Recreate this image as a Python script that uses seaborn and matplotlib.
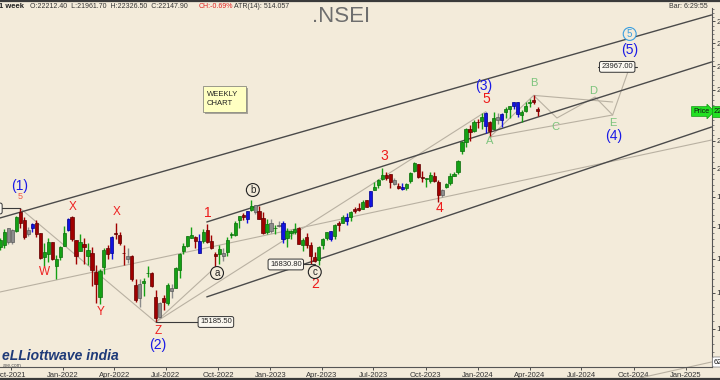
import pandas as pd
import matplotlib
matplotlib.use('Agg')
import matplotlib.pyplot as plt
import matplotlib.dates as mdates
import matplotlib.ticker as mticker
from matplotlib.lines import Line2D
from matplotlib.patches import Rectangle
import seaborn as sns

# ---------------- data ----------------
first_week = '2021-09-06'

opens = [
    17250, 17380, 17440, 17962, 17531, 17867, 18500, 18229, 17783, 17967,
    18141, 17796, 17051, 17135, 17521, 16773, 17046, 17388, 17913, 18309,
    17575, 17244, 17456, 17076, 17192, 16594, 15867, 16757, 17329, 17181,
    17810, 17740, 17184, 17006, 17097, 16227, 15845, 16290, 16578, 16570,
    15877, 15334, 15838, 15710, 16138, 16151, 16662, 17244, 17401, 17648,
    17682, 17188, 17546, 17890, 17540, 17156, 17147, 17094, 17200, 17736,
    17731, 18211, 18376, 18246, 18552, 18719, 18507, 18288, 17831, 18131,
    17953, 18074, 18119, 17649, 17818, 17847, 17965, 17428, 17680, 17421,
    17066, 16977, 17427, 17634, 17863, 17707, 18124, 18120, 18339, 18314,
    18599, 18612, 18595, 18873, 18682, 19246, 19400, 19612, 19748, 19784,
    19576, 19383, 19320, 19298, 19525, 19890, 20155, 19678, 19622, 19539,
    19730, 19522, 19053, 19345, 19486, 19731, 19844, 20602, 20965, 21434,
    21365, 21727, 21747, 22053, 21716, 21433, 21926, 21800, 22126, 22222,
    22356, 22517, 21989, 22163, 22456, 22579, 22212.4]

highs = [
    17436, 17644, 17947, 17976, 17949, 18351, 18604, 18310, 18012, 18124,
    18210, 17806, 17489, 17639, 17532, 17118, 17400, 18017, 18286, 18350,
    17599, 17781, 17640, 17490, 17352, 16815, 16694, 17344, 17442, 17703,
    18114, 17842, 17414, 17322, 17132, 16404, 16400, 16415, 16793, 16610,
    16084, 15749, 15927, 16275, 16248, 16752, 17172, 17490, 17719, 17992,
    17726, 17777, 17925, 18096, 17728, 17197, 17429, 17348, 17664, 17838,
    18176, 18362, 18442, 18529, 18888, 18728, 18696, 18473, 18266, 18251,
    18049, 18201, 18183, 17972, 17916, 18134, 18005, 17645, 17799, 17529,
    17207, 17381, 17638, 17843, 17863, 18089, 18180, 18389, 18458, 18508,
    18662, 18778, 18887, 18887, 19201, 19523, 19595, 19991, 19868, 19795,
    19645, 19465, 19458, 19457, 19867, 20222, 20156, 19878, 19660, 19843,
    19850, 19593, 19276, 19463, 19806, 19875, 20292, 21006, 21492, 21593,
    21801, 21834, 22082, 22124, 21750, 22127, 22053, 22069, 22297, 22353,
    22526, 22526, 22180, 22516, 22619, 22775, 22326.5]

lows = [
    17250, 17270, 17327, 17452, 17452, 17840, 17968, 17613, 17697, 17836,
    17688, 16985, 16782, 16891, 16966, 16410, 16968, 17384, 17880, 17564,
    16837, 17244, 16836, 16809, 16203, 15711, 15671, 16555, 17006, 17006,
    17623, 17443, 16825, 16888, 16340, 15736, 15601, 15903, 16444, 16172,
    15183, 15300, 15511, 15661, 15858, 16142, 16438, 17154, 17359, 17640,
    17345, 17166, 17485, 17500, 17292, 16747, 16855, 16950, 17098, 17637,
    17699, 17969, 18209, 18133, 18510, 18410, 18255, 17775, 17789, 17796,
    17774, 17990, 17493, 17353, 17625, 17762, 17455, 17255, 17324, 16851,
    16917, 16828, 17312, 17574, 17553, 17612, 17885, 18115, 18060, 18194,
    18464, 18516, 18575, 18647, 18647, 19241, 19301, 19563, 19563, 19296,
    19413, 19257, 19229, 19223, 19487, 19865, 19657, 19492, 19333, 19480,
    19518, 18837, 18973, 19309, 19414, 19700, 19802, 20507, 20770, 20977,
    21330, 21500, 21450, 21285, 21137, 21429, 21629, 21530, 21875, 21860,
    22224, 21905, 21710, 22101, 22303, 22427, 21961.7]

closes = [
    17369, 17585, 17853, 17532, 17895, 18338, 18114, 17671, 17916, 18102,
    17765, 17026, 17196, 17511, 16985, 17003, 17354, 17812, 18256, 17617,
    17102, 17516, 17374, 17276, 16658, 16245, 16630, 17287, 17153, 17670,
    17784, 17476, 17172, 17102, 16411, 15782, 16266, 16352, 16584, 16201,
    15293, 15699, 15752, 16220, 16049, 16719, 17158, 17397, 17698, 17758,
    17558, 17539, 17833, 17530, 17327, 17094, 17315, 17186, 17576, 17787,
    18117, 18350, 18308, 18513, 18696, 18497, 18269, 17807, 18105, 17859,
    17956, 18027, 17604, 17854, 17856, 17944, 17465, 17594, 17413, 17100,
    16945, 17360, 17600, 17828, 17624, 18065, 18069, 18315, 18203, 18499,
    18534, 18563, 18826, 18665, 19189, 19332, 19564, 19745, 19646, 19517,
    19428, 19310, 19266, 19435, 19820, 20192, 19674, 19638, 19653, 19751,
    19542, 19047, 19231, 19425, 19732, 19795, 20268, 20969, 21457, 21349,
    21731, 21711, 21895, 21572, 21353, 21854, 21783, 22041, 22213, 22339,
    22494, 22023, 22097, 22327, 22514, 22519, 22147.9]

# weeks the indicator paints blue / grey
blue_weeks = [9, 18, 29, 51, 63, 72, 84, 88, 94, 102, 123, 127, 130, 131]
gray_weeks = [3, 4, 8, 33, 36, 41, 44, 57, 65, 69, 71, 100, 112, 126]

# channel lines (dark)
dark_seg = [0, 0, 1, 1, 2, 2]
dark_dates = ['2021-09-12', '2025-02-15', '2022-09-11', '2025-02-15', '2022-09-11', '2025-02-15']
dark_prices = [18290, 26299, 18160, 24177, 15883, 21523]

# wave connection lines (light)
light_seg = [0, 0, 1, 1, 2, 2, 3, 3, 4, 4, 4, 4, 4, 4, 5, 5, 6, 6, 7, 7]
light_dates = ['2021-09-12', '2025-02-15',
               '2021-10-18', '2022-06-13',
               '2022-06-13', '2022-09-26',
               '2022-06-13', '2024-01-15',
               '2024-01-22', '2024-04-08', '2024-05-19', '2024-07-25', '2024-08-25', '2024-09-24',
               '2024-04-08', '2024-08-25',
               '2024-01-22', '2024-08-25',
               '2024-10-12', '2025-02-15']
light_prices = [16022, 21027,
                18604, 15183,
                15183, 16747,
                15183, 22124,
                21137, 22775, 21872, 22710, 21990, 23967,
                22775, 22507,
                21137, 21990,
                13739, 14137]

# price marker boxes
box_text = ['15185.50', '16830.80', '23967.00', '0']
box_dates = ['2022-09-27', '2023-01-28', '2024-09-02', '2021-09-09']
box_prices = [15185.5, 16830.8, 23967, 18604]
conn_seg = [0, 0, 1, 1, 2, 2, 3, 3]
conn_dates = ['2022-06-13', '2022-09-02', '2023-02-22', '2023-03-20',
              '2021-09-12', '2021-10-18', '2024-07-30', '2024-10-07']
conn_prices = [15185.5, 15185.5, 16830.8, 16830.8, 18604, 18604, 23967, 23967]

# wave labels
ann_text = ['(1)', '5', 'W', 'X', 'X', 'Y', 'Z', '(2)', '1', '2', '3', '4',
            '(3)', '5', 'A', 'B', 'C', 'D', 'E', '(4)', '(5)']
ann_dates = ['2021-10-17', '2021-10-18', '2021-11-30', '2022-01-18', '2022-04-05',
             '2022-03-08', '2022-06-17', '2022-06-17', '2022-09-13', '2023-03-20',
             '2023-07-20', '2023-10-26', '2024-01-12', '2024-01-16', '2024-01-21',
             '2024-04-08', '2024-05-17', '2024-07-21', '2024-08-25', '2024-08-27',
             '2024-09-24']
ann_prices = [19366, 18990, 16605, 18649, 18487, 15459, 14943, 14573, 18454, 16253,
              20436, 18620, 23161, 22628, 20990, 23286, 21523, 22954, 21677, 21180,
              24702]
ann_kind = ['deg', 'small', 'minor', 'minor', 'minor', 'minor', 'minor', 'deg', 'num', 'num',
            'num', 'num', 'deg', 'num', 'abc', 'abc', 'abc', 'abc', 'abc', 'deg', 'deg']

circ_text = ['a', 'b', 'c', '5']
circ_dates = ['2022-09-29', '2022-12-01', '2023-03-20', '2024-09-24']
circ_prices = [16576, 19229, 16605, 25420]
circ_color = ['#222222', '#222222', '#222222', '#3a9fe0']

tick_dates = ['2021-10-01', '2022-01-01', '2022-04-01', '2022-07-01', '2022-10-01',
              '2023-01-01', '2023-04-01', '2023-07-01', '2023-10-01', '2024-01-01',
              '2024-04-01', '2024-07-01', '2024-10-01', '2025-01-01']
tick_labels = ['Oct-2021', 'Jan-2022', 'Apr-2022', 'Jul-2022', 'Oct-2022', 'Jan-2023',
               'Apr-2023', 'Jul-2023', 'Oct-2023', 'Jan-2024', 'Apr-2024', 'Jul-2024',
               'Oct-2024', 'Jan-2025']
y_ticks = [14000, 15000, 16000, 17000, 18000, 19000, 20000, 21000, 22000,
           23000, 24000, 25000, 26000]

# ---------------- style ----------------
BG = '#f3ebda'
sns.set_theme(style='ticks', rc={'axes.facecolor': BG, 'figure.facecolor': BG,
                                 'axes.edgecolor': '#555555'})
plt.rcParams['font.family'] = ['Liberation Sans', 'DejaVu Sans']

fig = plt.figure(figsize=(7.2, 3.8), dpi=100)
ax = fig.add_axes([0, 13 / 380, 712 / 720, 359 / 380])
ax.set_yscale('log')

# ---------------- candles ----------------
df = pd.DataFrame({'date': pd.date_range(first_week, periods=len(closes), freq='7D'),
                   'open': opens, 'high': highs, 'low': lows, 'close': closes})
df['kind'] = ['up' if c >= o else 'down' for o, c in zip(opens, closes)]
df.loc[blue_weeks, 'kind'] = 'blue'
df.loc[gray_weeks, 'kind'] = 'gray'
body_col = {'up': '#14a014', 'down': '#a00000', 'blue': '#1212e0', 'gray': '#8c8c8c'}
edge_col = {'up': '#0b6a0b', 'down': '#5e0000', 'blue': '#00008a', 'gray': '#5a5a5a'}
xs = mdates.date2num(df['date'])
bot = df[['open', 'close']].min(axis=1)
top = df[['open', 'close']].max(axis=1)
ax.vlines(xs, df['low'], df['high'], colors=[body_col[k] for k in df['kind']], lw=1.0, zorder=3)
ax.bar(xs, top - bot, bottom=bot, width=5.6,
       color=[body_col[k] for k in df['kind']],
       edgecolor=[edge_col[k] for k in df['kind']], linewidth=0.5, zorder=4)

# ---------------- lines ----------------
dark_df = pd.DataFrame({'seg': dark_seg, 'date': pd.to_datetime(dark_dates), 'price': dark_prices})
light_df = pd.DataFrame({'seg': light_seg, 'date': pd.to_datetime(light_dates), 'price': light_prices})
conn_df = pd.DataFrame({'seg': conn_seg, 'date': pd.to_datetime(conn_dates), 'price': conn_prices})
n0 = len(ax.lines)
sns.lineplot(data=light_df, x='date', y='price', units='seg', estimator=None, sort=False,
             color='#b9b1a2', lw=0.8, ax=ax, zorder=2)
sns.lineplot(data=dark_df, x='date', y='price', units='seg', estimator=None, sort=False,
             color='#4a4a4a', lw=1.0, ax=ax, zorder=2)
sns.lineplot(data=conn_df, x='date', y='price', units='seg', estimator=None, sort=False,
             color='#3a3a3a', lw=0.8, ax=ax, zorder=5)
for ln in ax.lines[n0:]:
    ln.set_clip_on(False)

# ---------------- labels ----------------
kind_style = {'deg': ('#1a1ae6', 10), 'small': ('#f05a4a', 6.5), 'minor': ('#ee2020', 8.5),
              'num': ('#ee1a1a', 10), 'abc': ('#7cc47c', 8)}
for t, d, p, k in zip(ann_text, ann_dates, ann_prices, ann_kind):
    c, s = kind_style[k]
    ax.text(pd.Timestamp(d), p, t, color=c, fontsize=s, ha='center', va='center', zorder=6)

for t, d, p, c in zip(circ_text, circ_dates, circ_prices, circ_color):
    ax.text(pd.Timestamp(d), p, t, color=c, fontsize=7, ha='center', va='center', zorder=6,
            bbox=dict(boxstyle='circle,pad=0.15', fc=BG, ec=c, lw=0.8))

for t, d, p in zip(box_text, box_dates, box_prices):
    ax.text(pd.Timestamp(d), p, t, color='#222222', fontsize=5.5, ha='center', va='center',
            zorder=7, bbox=dict(boxstyle='round,pad=0.25', fc='#fbf8f0', ec='#333333', lw=0.7))

# ---------------- axes ----------------
ax.set_xlim(pd.Timestamp('2022-01-01') - pd.Timedelta(days=110.8),
            pd.Timestamp('2022-01-01') + pd.Timedelta(days=1141.8))
ax.set_ylim(14011, 26628)
ax.set_xticks(pd.to_datetime(tick_dates))
ax.set_xticklabels(tick_labels)
ax.yaxis.tick_right()
ax.yaxis.set_major_locator(mticker.FixedLocator(y_ticks))
ax.yaxis.set_minor_locator(mticker.FixedLocator(list(range(14000, 26700, 200))))
ax.yaxis.set_major_formatter(mticker.FuncFormatter(lambda v, p: f'{v:.0f}'))
ax.yaxis.set_minor_formatter(mticker.NullFormatter())
ax.tick_params(axis='x', labelsize=5.5, length=2.5, width=0.6, pad=0.8, colors='#333333')
ax.tick_params(axis='y', which='major', labelsize=6, length=2.5, width=0.6, pad=0.5, colors='#333333')
ax.tick_params(axis='y', which='minor', length=1.5, width=0.5, colors='#555555')
ax.set_xlabel('')
ax.set_ylabel('')
for side in ['top', 'left']:
    ax.spines[side].set_visible(False)
ax.spines['right'].set_linewidth(0.8)
ax.spines['bottom'].set_linewidth(0.8)

# ---------------- header / decorations ----------------
fig.add_artist(Line2D([0, 1], [1 - 0.7 / 380] * 2, color='#3a3a3a', lw=1.6))
fig.add_artist(Line2D([0, 1], [0.7 / 380] * 2, color='#3a3a3a', lw=1.6))
hy = 1 - 6.5 / 380
fig.text(-1 / 720, hy, '1 week', fontsize=5.5, color='#222222', va='center', weight='bold')
fig.text(30 / 720, hy, 'O:22212.40  L:21961.70  H:22326.50  C:22147.90', fontsize=5.0,
         color='#333333', va='center')
fig.text(199 / 720, hy, 'CH:-0.69%', fontsize=5.0, color='#e02020', va='center')
fig.text(234 / 720, hy, 'ATR(14): 514.057', fontsize=5.0, color='#333333', va='center')
fig.text(708 / 720, hy, 'Bar: 6:29:55', fontsize=5.0, color='#333333', va='center', ha='right')
fig.text(341 / 720, 1 - 16 / 380, '.NSEI', fontsize=16, color='#6e6e6e', ha='center', va='center')

fig.add_artist(Rectangle((205 / 720, 1 - 114 / 380), 43 / 720, 26 / 380,
                         transform=fig.transFigure, fc='#a8a49a', ec='none'))
fig.add_artist(Rectangle((203 / 720, 1 - 112 / 380), 43 / 720, 26 / 380,
                         transform=fig.transFigure, fc='#ffffc2', ec='#8a8a80', lw=0.6))
fig.text(207 / 720, 1 - 99 / 380, 'WEEKLY\nCHART', fontsize=5.5, color='#222222', va='center',
         linespacing=1.4)

fig.text(709 / 720, 1 - 111.5 / 380, 'Price', fontsize=5, color='#111111', ha='right', va='center',
         bbox=dict(boxstyle='rarrow,pad=0.2', fc='#22e022', ec='#119911', lw=0.5))
fig.text(714 / 720, 1 - 111.5 / 380, '22147.90', fontsize=5.5, color='#111111', va='center',
         bbox=dict(boxstyle='square,pad=0.2', fc='#22e022', ec='#119911', lw=0.5))
fig.text(714 / 720, 1 - 362 / 380, '6200.00', fontsize=5.5, color='#111111', va='center',
         bbox=dict(boxstyle='round,pad=0.2', fc='white', ec='#777777', lw=0.5))

fig.text(2 / 720, 1 - 356 / 380, 'eLLiottwave india', fontsize=10, color='#1e3a78',
         style='italic', weight='bold', va='center')
fig.text(3 / 720, 1 - 365.5 / 380, 'ave.com', fontsize=3.5, color='#555555', va='center')

fig.savefig('out.png', dpi=100, facecolor=BG)
